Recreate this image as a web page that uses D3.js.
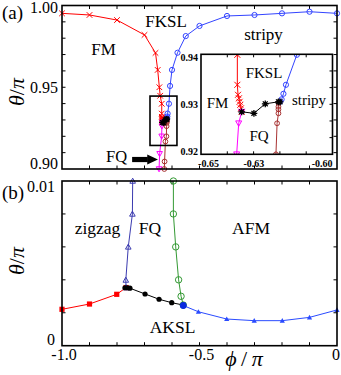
<!DOCTYPE HTML>
<html>
<head>
<meta charset="UTF8">
<script src="https://d3js.org/d3.v7.min.js"></script>
<style>
body { margin: 0; background: white; }
svg text { font-family: "Liberation Serif", "DejaVu Serif", serif; fill: black; }
</style>
</head>
<body>
<svg width="341" height="375"></svg>
<script>
// ---- panel (a): theta/pi vs phi/pi, near theta = pi ----
const redPhi   = [-1.0, -0.9, -0.8, -0.7, -0.66, -0.652, -0.646, -0.643, -0.6373, -0.6373, -0.637, -0.6366, -0.6363, -0.636, -0.6357, -0.6354];
const redTheta = [0.9952, 0.9942, 0.9911, 0.982, 0.971, 0.9606, 0.950, 0.9448, 0.9399, 0.9339, 0.9319, 0.9312, 0.9305, 0.9299, 0.9292, 0.9285];
const bluePhi   = [0, -0.1, -0.2, -0.3, -0.4, -0.5, -0.55, -0.58, -0.6, -0.607, -0.6111, -0.6159, -0.617, -0.6178, -0.6185];
const blueTheta = [0.9952, 0.9962, 0.9952, 0.9942, 0.9936, 0.9875, 0.9813, 0.9711, 0.9606, 0.9508, 0.9399, 0.9339, 0.9321, 0.931, 0.9305];
const blkPhi   = [-0.6354, -0.630, -0.625, -0.6192, -0.6185];
const blkTheta = [0.9285, 0.9282, 0.9301, 0.9305, 0.9305];
const magPhi   = [-0.6354, -0.6367, -0.6376, -0.645, -0.647];
const magTheta = [0.9285, 0.9262, 0.920, 0.9093, 0.900];
const brnPhi   = [-0.6192, -0.6192, -0.6192, -0.6192, -0.6198, -0.6203, -0.624, -0.627, -0.628];
const brnTheta = [0.9303, 0.9295, 0.929, 0.9282, 0.9262, 0.920, 0.9168, 0.9046, 0.900];

// ---- panel (b): theta/pi vs phi/pi, near theta = 0 ----
const zzPhi   = [-1.0, -0.9, -0.801, -0.767];
const zzTheta = [0.00221, 0.00253, 0.00312, 0.00353];
const fqzPhi   = [-0.767, -0.768, -0.759, -0.744, -0.743];
const fqzTheta = [0.00353, 0.00399, 0.0060, 0.0080, 0.0100];
const akPhi   = [-0.771, -0.762, -0.753, -0.698, -0.647, -0.601, -0.559];
const akTheta = [0.00352, 0.00352, 0.00349, 0.00314, 0.00282, 0.00261, 0.00247];
const fqaPhi   = [-0.595, -0.595, -0.5865, -0.576, -0.567, -0.559];
const fqaTheta = [0.0100, 0.0080, 0.0060, 0.0040, 0.0030, 0.00247];
const afPhi   = [-0.559, -0.504, -0.401, -0.301, -0.199, -0.1, 0];
const afTheta = [0.00244, 0.00206, 0.00162, 0.00152, 0.00152, 0.00172, 0.00217];

// tick labels
const aYLabels = [0.90, 0.95, 1.00];
const bYLabels = [0, 0.01];
const bXLabels = [-1.0, -0.5, 0];
const inXLabels = [-0.65, -0.63, -0.60];
const inYLabels = [0.92, 0.93, 0.94];

const left = 62, right = 337;
const aTop = 5.5, aBot = 169;
const bTop = 181, bBot = 345.7;
const inL = 201, inR = 332.5, inT = 54.3, inB = 154.3;

const x = d3.scaleLinear().domain([-1, 0]).range([left, right]);
const yA = d3.scaleLinear().domain([0.9, 1.0]).range([aBot, aTop]);
const yB = d3.scaleLinear().domain([0, 0.01]).range([bBot, bTop]);
const xIn = d3.scaleLinear().domain([-0.6533, -0.5954]).range([inL, inR]);
const yIn = d3.scaleLinear().domain([0.92, 0.94]).range([inB, inT]);

const svg = d3.select('svg');

const marker = (g, type, px, py, color, s) => {
	if (type === 'x') {
		g.append('path').attr('d', `M${px-s},${py-s}L${px+s},${py+s}M${px-s},${py+s}L${px+s},${py-s}`)
			.attr('stroke', color).attr('stroke-width', 1).attr('fill', 'none');
	} else if (type === 'star') {
		const d = s * 0.72;
		g.append('path').attr('d', `M${px-d},${py-d}L${px+d},${py+d}M${px-d},${py+d}L${px+d},${py-d}M${px},${py-s}L${px},${py+s}M${px-s},${py}L${px+s},${py}`)
			.attr('stroke', color).attr('stroke-width', 1.3).attr('fill', 'none');
	} else if (type === 'ocircle') {
		g.append('circle').attr('cx', px).attr('cy', py).attr('r', s)
			.attr('stroke', color).attr('fill', 'none').attr('stroke-width', 1);
	} else if (type === 'dot') {
		g.append('circle').attr('cx', px).attr('cy', py).attr('r', s).attr('fill', color);
	} else if (type === 'tridown') {
		g.append('path').attr('d', `M${px-s},${py-s*0.8}L${px+s},${py-s*0.8}L${px},${py+s}Z`)
			.attr('stroke', color).attr('fill', 'none').attr('stroke-width', 1);
	} else if (type === 'triup') {
		g.append('path').attr('d', `M${px-s},${py+s*0.8}L${px+s},${py+s*0.8}L${px},${py-s}Z`)
			.attr('stroke', color).attr('fill', 'none').attr('stroke-width', 1);
	} else if (type === 'ftriup') {
		g.append('path').attr('d', `M${px-s},${py+s*0.8}L${px+s},${py+s*0.8}L${px},${py-s}Z`)
			.attr('fill', color);
	} else if (type === 'square') {
		g.append('rect').attr('x', px - s).attr('y', py - s).attr('width', 2*s).attr('height', 2*s).attr('fill', color);
	}
};

const series = (g, xs, ys, sx, sy, color, type, s) => {
	const pts = xs.map((v, i) => [sx(v), sy(ys[i])]);
	g.append('path').attr('d', d3.line()(pts)).attr('stroke', color).attr('stroke-width', 1).attr('fill', 'none');
	pts.forEach(p => marker(g, type, p[0], p[1], color, s));
};

const frame = (x0, y0, x1, y1, w) => {
	svg.append('rect').attr('x', x0).attr('y', y0).attr('width', x1 - x0).attr('height', y1 - y0)
		.attr('fill', 'none').attr('stroke', 'black').attr('stroke-width', w);
};

const ticks = (g, xs, sx, y0, y1, ys, sy, x0, x1, len) => {
	xs.forEach(v => {
		g.append('line').attr('x1', sx(v)).attr('x2', sx(v)).attr('y1', y1).attr('y2', y1 - len).attr('stroke', 'black');
		g.append('line').attr('x1', sx(v)).attr('x2', sx(v)).attr('y1', y0).attr('y2', y0 + len).attr('stroke', 'black');
	});
	ys.forEach(v => {
		g.append('line').attr('y1', sy(v)).attr('y2', sy(v)).attr('x1', x0).attr('x2', x0 + len).attr('stroke', 'black');
		g.append('line').attr('y1', sy(v)).attr('y2', sy(v)).attr('x1', x1).attr('x2', x1 - len).attr('stroke', 'black');
	});
};

// ---------- panel (a) ----------
const ga = svg.append('g');
ticks(ga, d3.range(1, 10).map(i => -1 + i / 10), x, aTop, aBot, d3.range(1, 10).map(i => 0.9 + i / 100), yA, left, right, 3.5);
series(ga, redPhi, redTheta, x, yA, '#ff0000', 'x', 2.8);
series(ga, bluePhi, blueTheta, x, yA, '#3344ff', 'ocircle', 2.6);
series(ga, magPhi, magTheta, x, yA, '#ff00ff', 'tridown', 2.8);
series(ga, brnPhi, brnTheta, x, yA, '#a83232', 'ocircle', 2.4);
series(ga, blkPhi, blkTheta, x, yA, '#000000', 'star', 3.2);
frame(left, aTop, right, aBot, 1.6);

// zoom box
svg.append('rect').attr('x', x(-0.68)).attr('y', yA(0.9446))
	.attr('width', x(-0.582) - x(-0.68)).attr('height', yA(0.9144) - yA(0.9446))
	.attr('fill', 'none').attr('stroke', 'black').attr('stroke-width', 1.6);

// arrow to FQ
const ay = yA(0.9058);
svg.append('rect').attr('x', x(-0.745)).attr('y', ay - 2.6).attr('width', x(-0.688) - x(-0.745)).attr('height', 5.2).attr('fill', 'black');
svg.append('path').attr('d', `M${x(-0.69)},${ay-5}L${x(-0.651)},${ay}L${x(-0.69)},${ay+5}Z`).attr('fill', 'black');

// ---------- inset ----------
svg.append('rect').attr('x', inL).attr('y', inT).attr('width', inR - inL).attr('height', inB - inT).attr('fill', 'white');
svg.append('clipPath').attr('id', 'inclip').append('rect').attr('x', inL).attr('y', inT).attr('width', inR - inL).attr('height', inB - inT);
const gi = svg.append('g').attr('clip-path', 'url(#inclip)');
const inXT = xIn.domain(), inYT = yIn.domain();
ticks(gi, d3.range(1, 5).map(i => inXT[0] + i * (inXT[1] - inXT[0]) / 5), xIn, inT, inB,
	d3.range(1, 6).map(i => inYT[0] + i * (inYT[1] - inYT[0]) / 6), yIn, inL - 10, inR, 3);
series(gi, redPhi, redTheta, xIn, yIn, '#ff0000', 'x', 3);
series(gi, bluePhi, blueTheta, xIn, yIn, '#3344ff', 'ocircle', 2.6);
series(gi, magPhi, magTheta, xIn, yIn, '#ff00ff', 'tridown', 3);
series(gi, brnPhi, brnTheta, xIn, yIn, '#a83232', 'ocircle', 2.4);
series(gi, blkPhi, blkTheta, xIn, yIn, '#000000', 'star', 3.4);
frame(inL, inT, inR, inB, 1.6);

inXLabels.forEach(v => svg.append('text').attr('x', xIn(v)).attr('y', 166.5).attr('text-anchor', 'middle')
	.attr('font-size', 10).attr('font-weight', 'bold').text(v.toFixed(2)));
inYLabels.forEach(v => svg.append('text').attr('x', 198).attr('y', Math.min(Math.max(yIn(v) + 3.5, inT + 7), inB + 1))
	.attr('text-anchor', 'end').attr('font-size', 10).attr('font-weight', 'bold').text(v.toFixed(2)));

// panel (a) texts
const lab = (t, px, py, fs, anchor) => svg.append('text').attr('x', px).attr('y', py)
	.attr('font-size', fs).attr('text-anchor', anchor || 'middle').text(t);
lab('FM', 103.5, 55, 17);
lab('FKSL', 166, 27, 17);
lab('stripy', 263.5, 40, 17);
lab('FQ', 116.5, 161.5, 16.5);
lab('FM', 217.5, 108, 15);
lab('FKSL', 264, 78, 15);
lab('stripy', 309, 104.5, 15);
lab('FQ', 259, 141, 15);

aYLabels.forEach(v => svg.append('text').attr('x', 58).attr('y', Math.min(Math.max(yA(v) + 6, aTop + 7), aBot))
	.attr('text-anchor', 'end').attr('font-size', 16).text(v.toFixed(2)));
lab('(a)', 2, 19, 19, 'start');

// ---------- panel (b) ----------
const gb = svg.append('g');
ticks(gb, d3.range(1, 10).map(i => -1 + i / 10), x, bTop, bBot, d3.range(1, 5).map(i => i * 0.002), yB, left, right, 3.5);
series(gb, zzPhi, zzTheta, x, yB, '#ff0000', 'square', 2.6);
series(gb, fqzPhi, fqzTheta, x, yB, '#3b3bb0', 'triup', 2.8);
series(gb, fqaPhi, fqaTheta, x, yB, '#339933', 'ocircle', 3.2);
series(gb, afPhi, afTheta, x, yB, '#2a4bff', 'ftriup', 2.6);
series(gb, akPhi, akTheta, x, yB, '#000000', 'dot', 2.6);
marker(gb, 'dot', x(afPhi[0]), yB(afTheta[0]), '#0a2ae0', 3.4);
frame(left, bTop, right, bBot, 1.6);

bYLabels.forEach(v => svg.append('text').attr('x', 55).attr('y', Math.min(Math.max(yB(v) + 6, bTop + 11), bBot - 1))
	.attr('text-anchor', 'end').attr('font-size', 16).text(v === 0 ? '0' : v.toFixed(2)));
bXLabels.forEach(v => svg.append('text').attr('x', x(v) + (v === 0 ? -1 : 2)).attr('y', 360)
	.attr('text-anchor', 'middle').attr('font-size', 16).text(v === 0 ? '0' : v.toFixed(1)));
lab('(b)', 2, 199, 19, 'start');
lab('zigzag', 97.5, 233.5, 17.5);
lab('FQ', 150, 233.5, 17.5);
lab('AFM', 251, 233.5, 17.5);
lab('AKSL', 172.5, 333, 17.5);

// axis titles
const yTitle = (cy) => {
	const t = svg.append('text').attr('transform', `translate(24,${cy}) rotate(-90)`)
		.attr('text-anchor', 'middle').attr('font-size', 22);
	t.append('tspan').attr('font-style', 'italic').text('θ');
	t.append('tspan').text('/');
	t.append('tspan').attr('font-style', 'italic').text('π');
};
yTitle(92);
yTitle(261);
const xt = svg.append('text').attr('x', 244).attr('y', 366).attr('text-anchor', 'middle').attr('font-size', 22);
xt.append('tspan').attr('font-style', 'italic').text('ϕ');
xt.append('tspan').text('\u2009/\u2009');
xt.append('tspan').attr('font-style', 'italic').text('π');
</script>
</body>
</html>
